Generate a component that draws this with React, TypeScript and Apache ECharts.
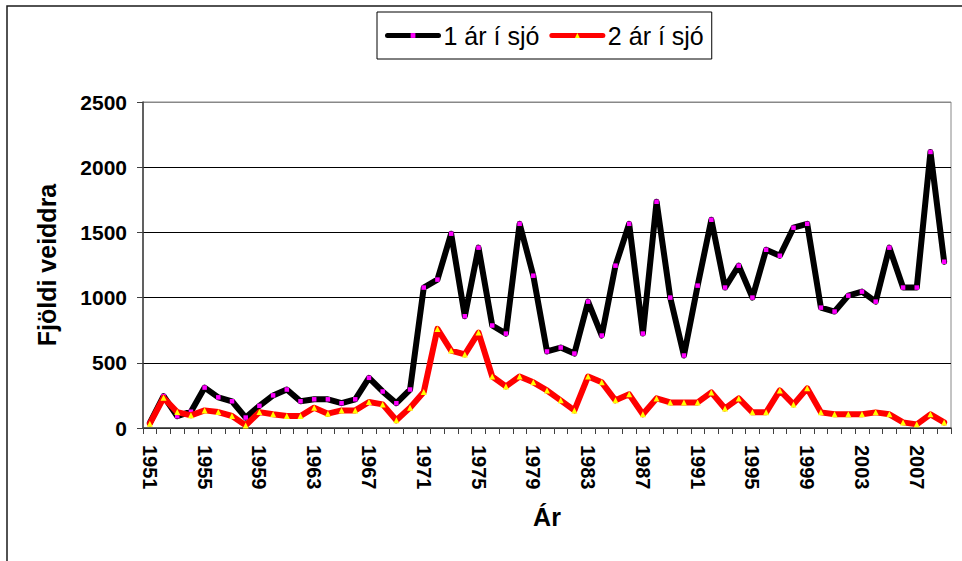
import React, { useEffect, useRef } from "react";
import * as echarts from "echarts";

const years: string[] = [];
for (let y = 1951; y <= 2009; y++) years.push(String(y));

const seriesNames = ["1 ár í sjó", "2 ár í sjó"];

const oneSeaWinter = [
  40, 245, 90, 125, 310, 235, 205, 80, 170, 250,
  295, 205, 220, 220, 190, 220, 385, 280, 190, 295,
  1077, 1138, 1490, 857, 1383, 786, 724, 1566, 1168, 587,
  617, 571, 969, 709, 1245, 1566, 724, 1735, 1000, 556,
  1092, 1597, 1077, 1245, 1000, 1367, 1321, 1536, 1566, 923,
  893, 1015, 1046, 969, 1383, 1077, 1077, 2117, 1275,
];

const twoSeaWinter = [
  33, 232, 122, 97, 135, 122, 92, 20, 122, 105,
  92, 92, 156, 110, 135, 135, 199, 181, 59, 156,
  276, 760, 594, 564, 732, 395, 319, 395, 350, 288,
  212, 135, 395, 350, 212, 258, 105, 227, 196, 196,
  196, 273, 150, 227, 120, 120, 288, 181, 304, 120,
  105, 105, 105, 120, 105, 43, 28, 105, 43,
];

const yTicks = [0, 500, 1000, 1500, 2000, 2500];

const FONT = "'Liberation Sans', Arial, sans-serif";

export default function App() {
  const ref = useRef<HTMLDivElement>(null);
  useEffect(() => {
    if (!ref.current) return;
    const chart = echarts.init(ref.current, undefined, { renderer: "svg" });
    chart.setOption({
      animation: false,
      backgroundColor: "#ffffff",
      textStyle: { fontFamily: FONT },
      graphic: [
        {
          type: "rect",
          shape: { x: 7, y: 6, width: 1200, height: 1200 },
          style: { fill: "none", stroke: "#1a1a1a", lineWidth: 1.5 },
          silent: true,
          z: -1,
        },
      ],
      legend: {
        left: 377,
        top: 12,
        padding: [11, 8, 11, 8],
        borderColor: "#000",
        borderWidth: 1,
        itemWidth: 51,
        itemHeight: 6,
        itemGap: 10,
        lineStyle: { width: 5 },
        textStyle: { fontSize: 25, color: "#000", fontFamily: FONT },
        data: seriesNames,
      },
      grid: {
        left: 143,
        right: 11,
        top: 102,
        bottom: 133,
        show: true,
        borderColor: "#888888",
        borderWidth: 1,
      },
      xAxis: {
        type: "category",
        data: years,
        boundaryGap: true,
        name: "Ár",
        nameLocation: "middle",
        nameGap: 76,
        nameTextStyle: { fontSize: 25, fontWeight: "bold", color: "#000", fontFamily: FONT },
        axisLine: { lineStyle: { color: "#404040", width: 1.5 } },
        axisTick: { show: true, interval: 0, length: 6, lineStyle: { color: "#404040" } },
        axisLabel: {
          interval: 3,
          rotate: -90,
          margin: 17,
          fontSize: 20,
          fontWeight: "bold",
          color: "#000",
          fontFamily: FONT,
        },
        splitLine: { show: false },
      },
      yAxis: {
        type: "value",
        min: 0,
        max: 2500,
        interval: 500,
        name: "Fjöldi veiddra",
        nameLocation: "middle",
        nameGap: 84,
        nameRotate: 90,
        nameTextStyle: { fontSize: 25, fontWeight: "bold", color: "#000", fontFamily: FONT },
        axisLine: { show: true, lineStyle: { color: "#404040", width: 1.5 } },
        axisTick: { show: true, length: 6, lineStyle: { color: "#404040" } },
        axisLabel: {
          margin: 16,
          fontSize: 21,
          fontWeight: "bold",
          color: "#000",
          fontFamily: FONT,
          formatter: (v: number) => (yTicks.includes(v) ? String(v) : ""),
        },
        splitLine: {
          show: true,
          lineStyle: { color: ["#000", "#000", "#000", "#000", "#000", "#888888"], width: 1 },
        },
      },
      series: [
        {
          name: seriesNames[0],
          type: "line",
          data: oneSeaWinter,
          symbol: "rect",
          symbolSize: 4.5,
          showAllSymbol: true,
          itemStyle: { color: "#ff00ff", borderWidth: 0 },
          lineStyle: { color: "#000000", width: 6, cap: "round", join: "round" },
          z: 2,
        },
        {
          name: seriesNames[1],
          type: "line",
          data: twoSeaWinter,
          symbol: "triangle",
          symbolSize: 6,
          showAllSymbol: true,
          itemStyle: { color: "#ffff00", borderWidth: 0 },
          lineStyle: { color: "#ff0000", width: 6, cap: "round", join: "round" },
          z: 3,
        },
      ],
    });
    return () => chart.dispose();
  }, []);
  return (
    <div
      ref={ref}
      style={{ position: "absolute", left: 0, top: 0, width: 962, height: 561, background: "#fff" }}
    />
  );
}
